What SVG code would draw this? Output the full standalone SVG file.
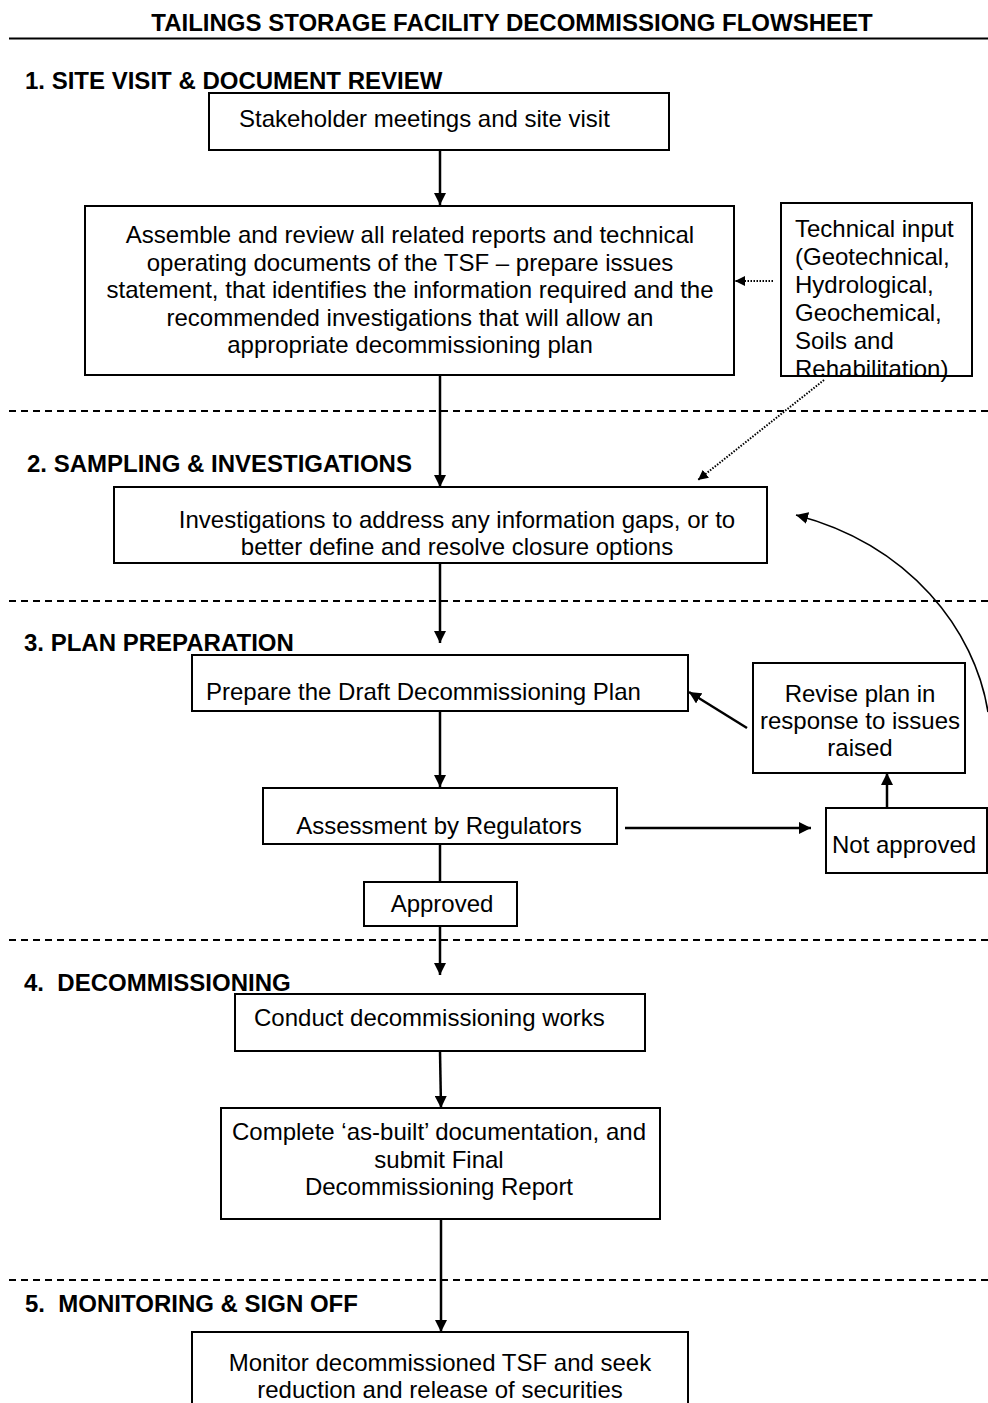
<svg xmlns="http://www.w3.org/2000/svg" width="988" height="1403" viewBox="0 0 988 1403">
<style>
text{font-family:"Liberation Sans",Arial,sans-serif;font-size:24px;fill:#000}
.h{font-weight:bold}
.c{text-anchor:middle}
.box{fill:#fff;stroke:#000;stroke-width:2}
.sep{stroke:#000;stroke-width:2;stroke-dasharray:7 5;fill:none}
.ar{stroke:#000;stroke-width:2.5;fill:none}
.dot{stroke:#000;stroke-width:2;stroke-dasharray:1.5 1.5;fill:none}
.thin{stroke:#000;stroke-width:1.6;fill:none}
</style>
<defs>
<marker id="ah" viewBox="0 0 12 12" refX="12" refY="6" markerWidth="12" markerHeight="12" markerUnits="userSpaceOnUse" orient="auto"><path d="M0,0 L12,6 L0,12 z" fill="#000"/></marker>
<marker id="ahs" viewBox="0 0 10 10" refX="10" refY="5" markerWidth="10" markerHeight="10" markerUnits="userSpaceOnUse" orient="auto"><path d="M0,0 L10,5 L0,10 z" fill="#000"/></marker>
</defs>
<rect width="988" height="1403" fill="#fff"/>

<g id="title">
<text class="h c" x="512" y="31">TAILINGS STORAGE FACILITY DECOMMISSIONG FLOWSHEET</text>
<line x1="9" y1="38.5" x2="988" y2="38.5" stroke="#000" stroke-width="2"/>
</g>

<g id="separators">
<line class="sep" x1="9" y1="411" x2="988" y2="411"/>
<line class="sep" x1="9" y1="601" x2="988" y2="601"/>
<line class="sep" x1="9" y1="940" x2="988" y2="940"/>
<line class="sep" x1="9" y1="1280" x2="988" y2="1280"/>
</g>

<g id="headings">
<text class="h" x="25" y="89">1. SITE VISIT &amp; DOCUMENT REVIEW</text>
<text class="h" x="27" y="472">2. SAMPLING &amp; INVESTIGATIONS</text>
<text class="h" x="24" y="651">3. PLAN PREPARATION</text>
<text class="h" x="24" y="991" xml:space="preserve">4.  DECOMMISSIONING</text>
<text class="h" x="25" y="1312" xml:space="preserve">5.  MONITORING &amp; SIGN OFF</text>
</g>

<g id="connectors">
<line class="ar" x1="440" y1="150" x2="440" y2="205" marker-end="url(#ah)"/>
<line class="ar" x1="440" y1="375" x2="440" y2="487" marker-end="url(#ah)"/>
<line class="ar" x1="440" y1="563" x2="440" y2="643" marker-end="url(#ah)"/>
<line class="ar" x1="440" y1="711" x2="440" y2="787" marker-end="url(#ah)"/>
<line class="ar" x1="440" y1="844" x2="440" y2="882"/>
<line class="ar" x1="440" y1="926" x2="440" y2="975" marker-end="url(#ah)"/>
<line class="ar" x1="440" y1="1051" x2="441" y2="1108" marker-end="url(#ah)"/>
<line class="ar" x1="441" y1="1219" x2="441" y2="1332" marker-end="url(#ah)"/>
<line class="ar" x1="625" y1="828" x2="811" y2="828" marker-end="url(#ah)"/>
<line class="ar" x1="887" y1="808" x2="887" y2="773" marker-end="url(#ah)"/>
<line class="ar" x1="747" y1="728" x2="689" y2="692" marker-end="url(#ah)"/>
<line class="dot" x1="773" y1="281" x2="735" y2="281" marker-end="url(#ahs)"/>
<line class="dot" x1="824" y1="380" x2="698" y2="480" marker-end="url(#ahs)"/>
<path class="thin" d="M988,712 C975,630 910,545 796,515" marker-end="url(#ah)"/>
</g>

<g id="n-stakeholder">
<rect class="box" x="209" y="93" width="460" height="57"/>
<text x="239" y="127">Stakeholder meetings and site visit</text>
</g>

<g id="n-assemble">
<rect class="box" x="85" y="206" width="649" height="169"/>
<text class="c" x="410" y="243">Assemble and review all related reports and technical</text>
<text class="c" x="410" y="270.5">operating documents of the TSF – prepare issues</text>
<text class="c" x="410" y="298">statement, that identifies the information required and the</text>
<text class="c" x="410" y="325.5">recommended investigations that will allow an</text>
<text class="c" x="410" y="353">appropriate decommissioning plan</text>
</g>

<g id="n-technical">
<rect class="box" x="781" y="203" width="191" height="173"/>
<text x="795" y="236.5">Technical input</text>
<text x="795" y="264.5">(Geotechnical,</text>
<text x="795" y="292.5">Hydrological,</text>
<text x="795" y="320.5">Geochemical,</text>
<text x="795" y="348.5">Soils and</text>
<text x="795" y="376.5">Rehabilitation)</text>
</g>

<g id="n-investigations">
<rect class="box" x="114" y="487" width="653" height="76"/>
<text class="c" x="457" y="528">Investigations to address any information gaps, or to</text>
<text class="c" x="457" y="555">better define and resolve closure options</text>
</g>

<g id="n-prepare">
<rect class="box" x="192" y="655" width="496" height="56"/>
<text x="206" y="700">Prepare the Draft Decommissioning Plan</text>
</g>

<g id="n-revise">
<rect class="box" x="753" y="663" width="212" height="110"/>
<text class="c" x="860" y="702">Revise plan in</text>
<text class="c" x="860" y="729">response to issues</text>
<text class="c" x="860" y="756">raised</text>
</g>

<g id="n-assessment">
<rect class="box" x="263" y="788" width="354" height="56"/>
<text class="c" x="439" y="834">Assessment by Regulators</text>
</g>

<g id="n-notapproved">
<rect class="box" x="826" y="808" width="161" height="65"/>
<text x="832" y="853">Not approved</text>
</g>

<g id="n-approved">
<rect class="box" x="364" y="882" width="153" height="44"/>
<text class="c" x="442" y="912">Approved</text>
</g>

<g id="n-conduct">
<rect class="box" x="235" y="994" width="410" height="57"/>
<text x="254" y="1026">Conduct decommissioning works</text>
</g>

<g id="n-complete">
<rect class="box" x="221" y="1108" width="439" height="111"/>
<text class="c" x="439" y="1140">Complete ‘as-built’ documentation, and</text>
<text class="c" x="439" y="1168">submit Final</text>
<text class="c" x="439" y="1195">Decommissioning Report</text>
</g>

<g id="n-monitor">
<path class="box" d="M192,1410 L192,1332 L688,1332 L688,1410"/>
<text class="c" x="440" y="1371">Monitor decommissioned TSF and seek</text>
<text class="c" x="440" y="1398">reduction and release of securities</text>
</g>
</svg>
